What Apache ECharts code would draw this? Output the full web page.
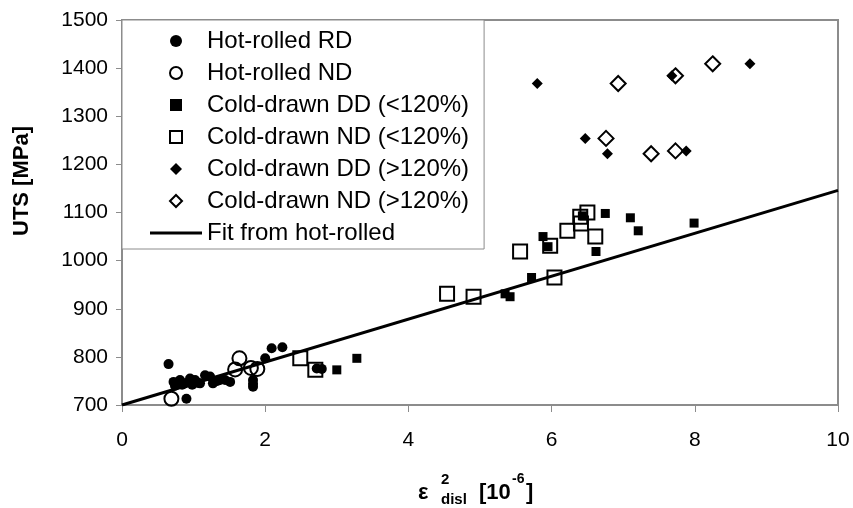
<!DOCTYPE html>
<html>
<head>
<meta charset="utf-8">
<script src="https://cdn.jsdelivr.net/npm/echarts@6/dist/echarts.min.js"></script>
<style>
  html, body { margin: 0; padding: 0; background: #fff; }
  #chart { width: 853px; height: 508px; }
</style>
</head>
<body>
<div id="chart"></div>
<script>
// values: [strain^2 (1e-6), UTS (MPa)]
const hotRolledRD = [
  [0.65, 785], [0.90, 713], [0.72, 748], [0.74, 740], [0.81, 752], [0.84, 742],
  [0.88, 745], [0.95, 755], [0.98, 742], [1.02, 752], [1.06, 746], [1.09, 745],
  [1.16, 762], [1.23, 759], [1.27, 745], [1.33, 750], [1.37, 752], [1.44, 752],
  [1.51, 748], [1.83, 752], [1.83, 744], [1.83, 738], [2.0, 797], [2.09, 818],
  [2.24, 820], [2.72, 776], [2.79, 775]
]
const hotRolledND = [[0.69, 713], [1.58, 774], [1.64, 797], [1.80, 777], [1.89, 775]]
const coldDD_low = [
  [3.0, 773], [3.28, 797], [5.35, 931], [5.42, 925], [5.72, 965], [5.88, 1050],
  [5.95, 1029], [6.43, 1093], [6.62, 1019], [6.75, 1098], [7.10, 1089], [7.21, 1062],
  [7.99, 1078]
]
const coldND_low = [
  [2.49, 797], [2.70, 773], [4.54, 931], [4.91, 925], [5.56, 1019], [5.98, 1031],
  [6.04, 965], [6.22, 1062], [6.40, 1091], [6.41, 1077], [6.50, 1100], [6.61, 1050]
]
const coldDD_high = [[5.80, 1368], [6.47, 1254], [6.78, 1222], [7.68, 1384], [7.88, 1228], [8.77, 1409]]
const coldND_high = [[6.76, 1254], [6.93, 1368], [7.39, 1222], [7.73, 1384], [7.73, 1228], [8.25, 1409]]
const fitLine = [[0, 700], [10, 1146]]

const seriesNames = [
  'Hot-rolled RD', 'Hot-rolled ND', 'Cold-drawn DD (<120%)', 'Cold-drawn ND (<120%)',
  'Cold-drawn DD (>120%)', 'Cold-drawn ND (>120%)', 'Fit from hot-rolled'
]

const font = "'Liberation Sans', Arial, sans-serif"
const hollow = { color: 'rgba(0,0,0,0)', borderColor: '#000', borderWidth: 2, opacity: 1 }
const solid = { color: '#000', opacity: 1 }

// legend icons that keep their shape inside the wide icon box
const rectIcon = 'path://M0,0L10,0L10,10L0,10Z'
const diamondIcon = 'path://M5,0L10,5L5,10L0,5Z'
const lineIcon = 'path://M0,0L52,0L52,3L0,3Z'

const chart = echarts.init(document.getElementById('chart'))

chart.setOption({
  animation: false,
  backgroundColor: '#fff',
  textStyle: { fontFamily: font },
  grid: {
    left: 122, right: 15, top: 20, bottom: 103,
    show: true, borderColor: '#8c8c8c', borderWidth: 2
  },
  legend: {
    orient: 'vertical',
    left: 122, top: 20,
    padding: [8, 15, 3, 28],
    itemWidth: 52, itemHeight: 12,
    itemGap: 6,
    symbolKeepAspect: true,
    borderColor: '#8c8c8c', borderWidth: 1,
    backgroundColor: '#fff',
    textStyle: { fontSize: 24, lineHeight: 26, color: '#000', fontFamily: font },
    data: [
      { name: seriesNames[0], icon: 'circle' },
      { name: seriesNames[1], icon: 'circle' },
      { name: seriesNames[2], icon: rectIcon },
      { name: seriesNames[3], icon: rectIcon },
      { name: seriesNames[4], icon: diamondIcon },
      { name: seriesNames[5], icon: diamondIcon },
      { name: seriesNames[6], icon: lineIcon }
    ]
  },
  xAxis: {
    type: 'value', min: 0, max: 10, interval: 2,
    splitLine: { show: false },
    axisLine: { lineStyle: { color: '#8c8c8c', width: 2 } },
    axisTick: { length: 7, lineStyle: { color: '#8c8c8c' } },
    axisLabel: { color: '#000', fontSize: 21, margin: 25, fontFamily: font }
  },
  yAxis: {
    type: 'value', min: 700, max: 1500, interval: 100,
    splitLine: { show: false },
    axisLine: { show: true, lineStyle: { color: '#8c8c8c', width: 2 } },
    axisTick: { show: true, length: 6, lineStyle: { color: '#8c8c8c' } },
    axisLabel: {
      color: '#000', fontSize: 21, margin: 14, fontFamily: font,
      formatter: v => String(v)
    }
  },
  graphic: [
    {
      type: 'text', x: 22, y: 181, rotation: Math.PI / 2,
      style: { text: 'UTS [MPa]', font: "bold 22px " + font, fill: '#000', align: 'center', verticalAlign: 'middle' }
    },
    {
      type: 'group', left: 418, top: 472,
      children: [
        { type: 'text', x: 0, y: 10, style: { text: 'ε', font: "bold 22px " + font, fill: '#000' } },
        { type: 'text', x: 23, y: 0, style: { text: '2', font: "bold 15px " + font, fill: '#000' } },
        { type: 'text', x: 23, y: 20, style: { text: 'disl', font: "bold 15px " + font, fill: '#000' } },
        { type: 'text', x: 61, y: 10, style: { text: '[10', font: "bold 22px " + font, fill: '#000' } },
        { type: 'text', x: 94, y: 0, style: { text: '-6', font: "bold 14px " + font, fill: '#000' } },
        { type: 'text', x: 108, y: 10, style: { text: ']', font: "bold 22px " + font, fill: '#000' } }
      ]
    }
  ],
  series: [
    { name: seriesNames[0], type: 'scatter', symbol: 'circle', symbolSize: 10, itemStyle: solid, data: hotRolledRD },
    { name: seriesNames[1], type: 'scatter', symbol: 'circle', symbolSize: 14, itemStyle: hollow, data: hotRolledND },
    { name: seriesNames[2], type: 'scatter', symbol: 'rect', symbolSize: 9, itemStyle: solid, data: coldDD_low },
    { name: seriesNames[3], type: 'scatter', symbol: 'rect', symbolSize: 14, itemStyle: hollow, data: coldND_low },
    { name: seriesNames[4], type: 'scatter', symbol: 'diamond', symbolSize: 11, itemStyle: solid, data: coldDD_high },
    { name: seriesNames[5], type: 'scatter', symbol: 'diamond', symbolSize: 15, itemStyle: hollow, data: coldND_high },
    {
      name: seriesNames[6], type: 'line', symbol: 'none', z: 1,
      lineStyle: { color: '#000', width: 3 }, itemStyle: { color: '#000' },
      data: fitLine
    }
  ]
})
</script>
</body>
</html>
